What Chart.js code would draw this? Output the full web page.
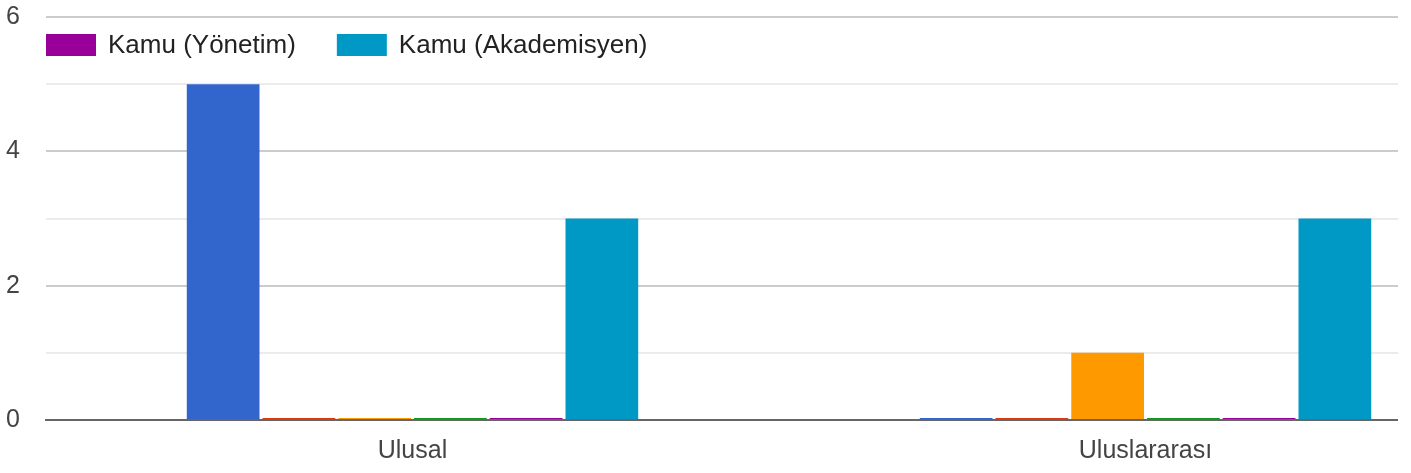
<!DOCTYPE html>
<html>
<head>
<meta charset="utf-8">
<script src="https://cdn.jsdelivr.net/npm/chart.js@4/dist/chart.umd.min.js"></script>
<style>
  html, body { margin: 0; padding: 0; background: #fff; }
  #clip { width: 1398px; height: 473px; overflow: hidden; position: relative; }
  canvas { display: block; }
</style>
</head>
<body>
<div id="clip"><canvas id="c" width="1512" height="473"></canvas></div>
<script>
const categories = ['Ulusal', 'Uluslararası'];
const seriesNames = ['Grup 1', 'Grup 2', 'Grup 3', 'Grup 4', 'Kamu (Yönetim)', 'Kamu (Akademisyen)'];
const seriesColors = ['#3366cc', '#dc3912', '#ff9900', '#109618', '#990099', '#0099c6'];
const series1 = [5, 0];
const series2 = [0, 0];
const series3 = [0, 1];
const series4 = [0, 0];
const kamuYonetim = [0, 0];
const kamuAkademisyen = [3, 3];
const yTickLabels = ['0', '2', '4', '6'];

const seriesValues = [series1, series2, series3, series4, kamuYonetim, kamuAkademisyen];
const legendShown = ['Kamu (Yönetim)', 'Kamu (Akademisyen)'];

const FAMILY = '"Liberation Sans", Arial, sans-serif';
const FONT = { family: FAMILY, size: 25 };
const LEGEND_FONT_SIZE = 26;

// Legend drawn inside the plot area, from the chart's own legend items
const legendInside = {
  id: 'legendInside',
  afterDraw(chart, args, opts) {
    const ctx = chart.ctx;
    const items = Chart.defaults.plugins.legend.labels.generateLabels(chart)
      .filter((it) => legendShown.includes(it.text));
    const boxW = 50, boxH = 22, gap = 12, spacing = 41;
    let x = chart.chartArea.left;
    const y = opts.top;
    ctx.save();
    ctx.font = `${LEGEND_FONT_SIZE}px ${FAMILY}`;
    ctx.textBaseline = 'middle';
    ctx.textAlign = 'left';
    items.forEach((it) => {
      ctx.fillStyle = it.fillStyle;
      ctx.fillRect(x, y, boxW, boxH);
      ctx.fillStyle = '#222';
      ctx.fillText(it.text, x + boxW + gap, y + boxH / 2 + 1);
      x += boxW + gap + ctx.measureText(it.text).width + spacing;
    });
    ctx.restore();
  }
};

new Chart(document.getElementById('c'), {
  type: 'bar',
  data: {
    labels: categories,
    datasets: seriesNames.map((name, i) => ({
      label: name,
      data: seriesValues[i],
      backgroundColor: seriesColors[i],
      borderWidth: 0,
      minBarLength: 2,
      categoryPercentage: 0.62,
      barPercentage: 0.96
    }))
  },
  options: {
    responsive: false,
    animation: false,
    layout: { padding: { left: 0, right: 0, top: 17, bottom: 0 } },
    plugins: {
      tooltip: { enabled: false },
      legend: { display: false },
      legendInside: { top: 34 }
    },
    scales: {
      x: {
        grid: { display: false },
        border: { display: true, color: '#666', width: 2 },
        ticks: { font: FONT, color: '#444', padding: 8 },
        afterFit: (s) => { s.height = 53; }
      },
      y: {
        min: 0,
        max: 6,
        border: { display: false },
        grid: {
          drawTicks: false,
          color: (ctx) => (ctx.tick && ctx.tick.value % 2 === 0) ? '#cccccc' : '#ebebeb',
          lineWidth: 2
        },
        ticks: {
          stepSize: 1,
          font: FONT,
          color: '#444',
          padding: 26,
          callback: (v) => yTickLabels.includes(String(v)) ? String(v) : ''
        },
        afterFit: (s) => { s.width = 46; s.paddingTop = 12; s.paddingBottom = 12; }
      }
    }
  },
  plugins: [legendInside]
});
</script>
</body>
</html>
